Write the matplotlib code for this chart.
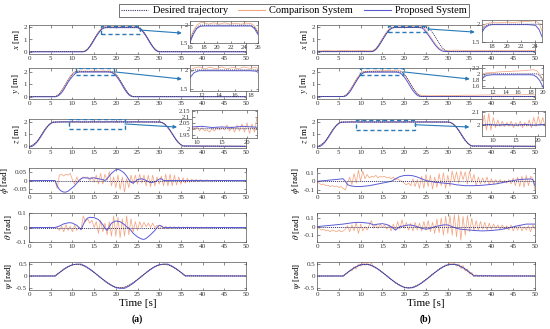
import numpy as np
import matplotlib.pyplot as plt
from matplotlib.patches import Rectangle, ConnectionPatch
from matplotlib.lines import Line2D

plt.rcParams['font.family'] = 'serif'
plt.rcParams['font.serif'] = ['Liberation Serif', 'DejaVu Serif']
plt.rcParams['mathtext.fontset'] = 'stix'

DES = '#3b3b6b'
COMP = '#f4a683'
PROP = '#5b5bd6'
BOX = '#2a7ab8'

# ---------------- desired trajectories (same in (a) and (b)) ----------------
x_des_t = [0, 12.5, 13, 13.5, 14, 14.5, 15, 15.5, 16, 16.5, 17, 17.5,
           25, 25.5, 26, 26.5, 27, 27.5, 28, 28.5, 29, 29.5, 30, 50]
x_des = [0, 0, 0.06, 0.21, 0.43, 0.70, 1.0, 1.30, 1.57, 1.79, 1.94, 2.0,
         2.0, 1.94, 1.79, 1.57, 1.30, 1.0, 0.70, 0.43, 0.21, 0.06, 0, 0]

y_des_t = [0, 6, 6.5, 7, 7.5, 8, 8.5, 9, 9.5, 10, 10.5, 11,
           19, 19.5, 20, 20.5, 21, 21.5, 22, 22.5, 23, 23.5, 24, 50]
y_des = [0, 0, 0.06, 0.21, 0.43, 0.70, 1.0, 1.30, 1.57, 1.79, 1.94, 2.0,
         2.0, 1.94, 1.79, 1.57, 1.30, 1.0, 0.70, 0.43, 0.21, 0.06, 0, 0]

z_des_t = [0, 0.5, 1, 1.5, 2, 2.5, 3, 3.5, 4, 4.5, 5, 5.5,
           30, 30.5, 31, 31.5, 32, 32.5, 33, 33.5, 34, 34.5, 35, 35.5, 50]
z_des = [0, 0.03, 0.12, 0.27, 0.47, 0.72, 1.0, 1.28, 1.53, 1.73, 1.88, 2.0,
         2.0, 1.97, 1.88, 1.73, 1.53, 1.28, 1.0, 0.72, 0.47, 0.27, 0.12, 0.0, 0]

ang_des_t = [0, 50]
ang_des = [0, 0]

psi_des_t = [0, 6, 7, 8, 9, 10, 11, 12, 13, 14, 15, 16, 17, 18, 19, 20, 21,
             22, 23, 24, 25, 26, 27, 28, 29, 30, 31, 32, 33, 34, 35, 36, 50]
psi_des = [0, 0, 0.15, 0.29, 0.4, 0.48, 0.5, 0.48, 0.4, 0.29, 0.15, 0, -0.15,
           -0.29, -0.4, -0.48, -0.5, -0.48, -0.4, -0.29, -0.15, 0, 0.15, 0.29,
           0.4, 0.48, 0.5, 0.48, 0.4, 0.29, 0.15, 0, 0]

# ---------------- (a) ----------------
x_t_a = [0, 12.5, 13, 13.5, 14, 14.5, 15, 15.5, 16, 16.5, 17, 17.5, 18, 18.7, 19.5,
         20.3, 21.1, 21.9, 22.7, 23.5, 24.2, 25, 25.5, 26, 26.5, 27, 27.5, 28,
         28.5, 29, 29.5, 30, 50]
x_prop_a = [-0.02, -0.02, 0.03, 0.17, 0.39, 0.66, 0.96, 1.26, 1.52, 1.75, 1.91, 1.97,
            1.98, 1.98, 1.98, 1.98, 1.98, 1.98, 1.98, 1.98, 1.98, 1.98,
            1.9, 1.74, 1.52, 1.26, 0.96, 0.66, 0.39, 0.17, 0.03, -0.02, -0.02]
x_comp_a = [0, 0, 0.08, 0.24, 0.47, 0.75, 1.05, 1.35, 1.62, 1.85, 2.0, 2.07,
            2.08, 2.03, 2.07, 2.03, 2.07, 2.03, 2.06, 2.03, 2.06, 2.05,
            1.98, 1.82, 1.6, 1.33, 1.03, 0.73, 0.46, 0.24, 0.08, 0, 0]

y_t_a = [0, 6, 6.5, 7, 7.5, 8, 8.5, 9, 9.5, 10, 10.5, 11, 11.6, 12.3, 13, 13.7, 14.4,
         15.1, 15.8, 16.5, 17.2, 17.9, 18.6, 19, 19.5, 20, 20.5, 21, 21.5, 22, 22.5,
         23, 23.5, 24, 50]
y_prop_a = [-0.02, -0.02, 0.02, 0.12, 0.3, 0.55, 0.85, 1.15, 1.4, 1.62, 1.8, 1.93,
            1.98, 1.98, 1.98, 1.98, 1.98, 1.98, 1.98, 1.98, 1.98, 1.98, 1.97,
            1.93, 1.85, 1.68, 1.46, 1.2, 0.9, 0.6, 0.34, 0.14, 0.03, -0.02, -0.02]
y_comp_a = [0, 0, 0.08, 0.24, 0.47, 0.75, 1.05, 1.35, 1.62, 1.85, 2.0, 2.05,
            2.08, 2.03, 2.07, 2.03, 2.08, 2.03, 2.07, 2.03, 2.08, 2.04, 2.07,
            2.03, 1.95, 1.8, 1.58, 1.3, 1.0, 0.7, 0.43, 0.2, 0.06, 0.0, 0.0]

z_prop_t = [0, 0.5, 1, 1.5, 2, 2.5, 3, 3.5, 4, 4.5, 5, 5.5, 7, 9, 11, 13, 15, 17,
            19, 21, 23, 25, 27, 30, 30.5, 31, 31.5, 32, 32.5, 33, 33.5, 34, 34.5,
            35, 35.5, 50]
z_prop_a = [-0.06, -0.04, 0.05, 0.2, 0.4, 0.66, 0.95, 1.24, 1.5, 1.72, 1.88, 1.97,
            2.01, 2.015, 2.02, 2.01, 2.015, 2.01, 2.02, 2.015, 2.01, 2.015, 2.01,
            2.0, 1.98, 1.9, 1.76, 1.57, 1.33, 1.05, 0.77, 0.5, 0.28, 0.12, 0.02, -0.02]
z_comp_t = np.concatenate([np.arange(0, 5.01, 0.5), np.arange(5.5, 30.01, 0.5),
                           np.arange(30.5, 35.51, 0.5), [50]])
z_comp_a = [0, 0.03, 0.13, 0.29, 0.5, 0.76, 1.04, 1.32, 1.57, 1.77, 1.92,
            2.0, 2.01, 2.0, 2.01, 2.0, 2.02, 2.0, 2.02, 1.99, 2.02, 1.98, 2.01, 1.98,
            1.99, 1.97, 2.0, 1.98, 2.01, 1.99, 2.01, 1.99, 2.03, 1.98, 2.02, 1.97,
            2.03, 1.98, 2.04, 1.97, 2.05, 1.96, 2.04, 1.97, 2.1, 1.99, 2.03, 1.98,
            2.03, 1.99, 2.02, 1.99, 2.02, 1.99, 2.01, 2.0, 2.01, 2.0, 2.01, 2.0, 2.0,
            1.96, 1.87, 1.72, 1.52, 1.27, 0.99, 0.71, 0.46, 0.26, 0.11, 0.02, 0]

phi_prop_a_t = [0, 6, 6.5, 7, 7.5, 8, 8.5, 9, 9.5, 10, 10.5, 11, 11.5, 12, 12.5, 13,
                14, 15, 16, 17, 17.5, 18, 18.5, 19, 19.5, 20, 20.5, 21, 21.5, 22,
                22.5, 23, 23.5, 24, 24.5, 25, 26, 27, 28, 29, 30, 30.5, 31, 32, 50]
phi_prop_a = [0, 0, -0.03, -0.05, -0.06, -0.065, -0.065, -0.06, -0.05, -0.04, -0.03,
              -0.015, 0, 0.01, 0.015, 0.015, 0.012, 0.015, 0.01, 0.005, 0, 0.01,
              0.025, 0.04, 0.05, 0.06, 0.062, 0.058, 0.05, 0.04, 0.025, 0.005, -0.01,
              -0.015, -0.005, 0.005, 0.01, 0.0, -0.012, -0.008, 0.008, 0.01, 0.0, 0, 0]
osc_t_a = np.concatenate([[0], np.arange(6, 40.01, 0.5), [41, 42, 43, 44, 45, 50]])
phi_comp_a = [0,
              0, -0.045, 0.03, 0.035, 0.025, 0.035, 0.03, 0.04, 0.005, -0.02, 0.02,
              -0.01, 0.01, 0.02, 0.015, 0.02, 0.0, 0.02, -0.01, 0.03, -0.02, 0.04,
              -0.02, 0.035, 0.0, 0.05, -0.03, 0.02, -0.04, 0.03, -0.05, 0.02, -0.065,
              0.01, -0.04, 0.03, -0.02, 0.03, -0.02, 0.035, -0.015, 0.03, -0.03, 0.03,
              -0.035, 0.03, -0.03, 0.02, -0.02, 0.025, -0.03, 0.035, -0.03, 0.035,
              -0.03, 0.03, -0.025, 0.02, -0.02, 0.015, -0.015, 0.012, -0.01, 0.008,
              -0.008, 0.006, -0.006, 0.005, -0.004,
              0.003, -0.003, 0.002, -0.002, 0.001, 0]

theta_prop_a_t = [0, 6, 7, 8, 9, 9.5, 10, 11, 11.5, 12, 12.5, 13, 13.5, 14, 15, 16,
                  17, 17.5, 18, 19, 20, 21, 22, 22.5, 23, 23.5, 24, 25, 26, 26.5, 27,
                  28, 29, 29.5, 30, 30.5, 31, 50]
theta_prop_a = [0, 0, 0.01, 0.025, 0.032, 0.033, 0.03, 0.015, 0.0, -0.015, 0.02,
                0.05, 0.065, 0.07, 0.068, 0.055, 0.02, -0.005, -0.02, 0.03, 0.045,
                0.04, 0.02, 0.005, -0.005, -0.02, -0.04, -0.065, -0.08, -0.082,
                -0.075, -0.05, -0.02, 0.0, 0.015, 0.01, 0.0, 0]
theta_comp_a = [0,
                0, 0.0, -0.02, 0.01, -0.03, 0.02, -0.02, 0.01, -0.03, 0.015, -0.02,
                0.0, -0.01, 0.08, 0.04, 0.06, 0.03, 0.05, 0.0, 0.04, -0.04, 0.05,
                -0.03, 0.03, -0.05, 0.04, -0.06, 0.08, -0.06, 0.07, -0.07, 0.06,
                -0.06, 0.08, -0.05, 0.06, -0.03, 0.04, -0.02, 0.04, 0.0, 0.035,
                0.005, 0.03, 0.0, 0.03, 0.0, 0.015, -0.01, 0.01, -0.008, 0.008,
                -0.008, 0.006, -0.006, 0.006, -0.005, 0.005, -0.005, 0.004, -0.004,
                0.004, -0.004, 0.003, -0.003, 0.003, -0.003, 0.002, -0.002,
                0.002, -0.002, 0.001, -0.001, 0.001, 0]

psi_prop_a = [0, 0, 0.14, 0.28, 0.4, 0.48, 0.51, 0.51, 0.42, 0.3, 0.16, 0.01, -0.14,
              -0.28, -0.4, -0.5, -0.53, -0.53, -0.44, -0.31, -0.16, -0.01, 0.14, 0.28,
              0.4, 0.48, 0.51, 0.51, 0.42, 0.3, 0.16, 0.01, 0]
psi_comp_a = [0, 0, 0.15, 0.29, 0.41, 0.49, 0.5, 0.48, 0.41, 0.29, 0.15, 0, -0.15,
              -0.29, -0.41, -0.49, -0.51, -0.48, -0.4, -0.29, -0.15, 0, 0.15, 0.29,
              0.41, 0.49, 0.5, 0.48, 0.4, 0.29, 0.15, 0, 0]

# ---------------- (b) ----------------
x_t_b = [0, 2, 4, 6, 8, 10, 12, 12.5, 13, 13.5, 14, 14.5, 15, 15.5, 16, 16.5, 17,
         17.5, 18, 19, 20, 21, 22, 23, 24, 24.5, 25, 25.5, 26, 26.5, 27, 27.5, 28,
         28.5, 29, 29.5, 30, 32, 34, 36, 38, 40, 42, 44, 46, 48, 50]
x_prop_b = [0, 0, 0, 0, 0, 0, 0,
            0.0, 0.04, 0.17, 0.38, 0.65, 0.95, 1.25, 1.52, 1.75, 1.9, 1.97,
            1.99, 1.99, 1.99, 1.99, 1.99, 1.99, 1.97, 1.85,
            1.6, 1.38, 1.12, 0.86, 0.6, 0.38, 0.2, 0.08, 0.02, 0.0, 0.0,
            0, 0, 0, 0, 0, 0, 0, 0, 0, 0]
x_comp_b = [0.05, 0.08, 0.06, 0.09, 0.07, 0.08, 0.07,
            0.08, 0.13, 0.28, 0.5, 0.78, 1.08, 1.37, 1.62, 1.85, 2.0, 2.03,
            2.05, 2.04, 2.06, 2.05, 2.07, 2.08, 2.1, 2.02,
            1.75, 1.5, 1.25, 0.98, 0.72, 0.48, 0.3, 0.18, 0.12, 0.1, 0.1,
            0.12, 0.09, 0.11, 0.08, 0.1, 0.09, 0.11, 0.08, 0.1, 0.09]

y_t_b = [0, 2, 4, 6, 6.5, 7, 7.5, 8, 8.5, 9, 9.5, 10, 10.5, 11, 12, 13, 14, 15, 16,
         17, 18, 18.5, 19, 19.5, 20, 20.5, 21, 21.5, 22, 22.5, 23, 23.5, 24, 26, 28,
         30, 32, 34, 36, 38, 40, 42, 44, 46, 48, 50]
y_prop_b = [0, 0, 0, 0,
            0.03, 0.15, 0.36, 0.63, 0.93, 1.22, 1.5, 1.73, 1.88, 1.95,
            1.97, 1.97, 1.97, 1.97, 1.97, 1.97, 1.97, 1.96,
            1.9, 1.78, 1.58, 1.33, 1.04, 0.75, 0.48, 0.26, 0.1, 0.02, 0.0,
            0, 0, 0, 0, 0, 0, 0, 0, 0, 0, 0, 0, 0]
y_comp_b = [0, 0.01, 0, 0.01,
            0.1, 0.26, 0.5, 0.78, 1.08, 1.38, 1.65, 1.87, 2.0, 2.03,
            2.04, 2.06, 2.07, 2.08, 2.09, 2.1, 2.12, 2.13,
            2.1, 1.98, 1.8, 1.55, 1.26, 0.96, 0.68, 0.44, 0.26, 0.14, 0.08,
            0.06, 0.07, 0.1, 0.08, 0.11, 0.1, 0.12, 0.13, 0.11, 0.14, 0.13, 0.15, 0.14]

z_prop_b = [-0.05, -0.03, 0.05, 0.2, 0.41, 0.67, 0.96, 1.25, 1.51, 1.73, 1.89, 1.97,
            2.0, 2.005, 2.0, 2.005, 2.0, 2.005, 2.0, 2.005, 2.0, 2.005, 2.0,
            2.0, 1.98, 1.9, 1.76, 1.57, 1.33, 1.05, 0.77, 0.5, 0.28, 0.12, 0.02, -0.02]
z_comp_b = [0, 0.03, 0.13, 0.29, 0.5, 0.76, 1.04, 1.32, 1.57, 1.77, 1.92,
            2.0, 2.02, 1.98, 2.03, 1.98, 2.08, 1.96, 2.09, 1.96, 2.06, 1.98, 2.04,
            1.99, 2.03, 1.99, 2.02, 1.99, 2.03, 1.98, 2.02, 1.99, 2.03, 1.98, 2.02,
            1.99, 2.04, 1.98, 2.06, 1.99, 2.07, 2.0, 2.06, 1.99, 2.05, 1.99, 2.04,
            1.98, 2.03, 1.98, 2.04, 1.99, 2.03, 1.98, 2.04, 1.99, 2.03, 1.98, 2.02,
            1.99, 2.0,
            1.96, 1.87, 1.72, 1.52, 1.27, 0.99, 0.71, 0.46, 0.26, 0.11, 0.02, 0]

phi_prop_b_t = [0, 2, 4, 6, 6.5, 7, 8, 9, 10, 11, 12, 13, 14, 15, 16, 17, 18, 19, 20,
                21, 22, 23, 24, 25, 26, 27, 28, 29, 30, 31, 32, 33, 34, 35, 36, 37,
                38, 39, 40, 41, 42, 43, 44, 45, 46, 47, 48, 49, 49.5, 50]
phi_prop_b = [0.0, 0.01, 0.02, 0.03, 0.0, -0.04, -0.055, -0.06, -0.06, -0.055, -0.05,
              -0.04, -0.03, -0.02, -0.01, 0.0, 0.03, 0.055, 0.068, 0.07, 0.065,
              0.05, 0.03, 0.01, 0.0, -0.01, -0.015, -0.02, -0.025, -0.03, -0.04,
              -0.045, -0.05, -0.05, -0.05, -0.048, -0.045, -0.04, -0.035, -0.03,
              -0.02, -0.01, 0.0, 0.01, 0.018, 0.023, 0.026, 0.028, 0.02, -0.05]
osc_t_b = np.arange(0, 50.01, 0.5)
phi_comp_b = [0.0, -0.02, -0.04, -0.03, -0.05, -0.045, -0.06, -0.05, -0.06, -0.055,
              -0.07, -0.06, -0.08, -0.1, -0.02, 0.05, -0.04, 0.09, -0.02, 0.13, 0.0,
              0.12, 0.03, 0.08, 0.04, 0.06, 0.05, 0.07, 0.04, 0.06, 0.05, 0.06, 0.04,
              0.05, 0.03, 0.05, 0.02, 0.03, 0.01, 0.0, -0.02, -0.04, -0.02, -0.05,
              0.03, -0.06, 0.02, -0.08, 0.06, -0.08, 0.08, -0.06, 0.07, -0.09, 0.05,
              -0.07, 0.09, -0.05, 0.1, -0.08, 0.07, -0.06, 0.12, 0.0, 0.11, -0.02,
              0.12, 0.02, 0.11, -0.03, 0.12, -0.01, 0.08, -0.05, 0.05, -0.03, 0.04,
              -0.02, 0.05, -0.04, 0.03, -0.03, 0.02, -0.03, 0.02, -0.02, 0.01, -0.02,
              0.02, -0.03, 0.04, -0.05, 0.05, -0.06, 0.06, -0.07, 0.07, -0.05, 0.06,
              0.03, -0.1]

theta_prop_b_t = [0, 2, 4, 6, 8, 9, 10, 11, 12, 13, 14, 15, 16, 17, 18, 19, 20, 21,
                  22, 23, 24, 25, 26, 27, 28, 29, 30, 31, 32, 33, 34, 36, 38, 40, 42,
                  44, 46, 48, 50]
theta_prop_b = [0.0, 0.01, 0.02, 0.03, 0.045, 0.05, 0.05, 0.045, 0.04, 0.02, 0.03,
                0.035, 0.025, 0.0, -0.04, 0.0, 0.01, 0.02, 0.015, 0.0, -0.02, -0.03,
                -0.02, 0.0, 0.01, 0.02, 0.02, 0.0, -0.02, -0.03, -0.035, -0.045,
                -0.05, -0.045, -0.035, -0.015, 0.01, 0.03, 0.03]
theta_comp_b = [0.0, -0.02, -0.04, -0.03, -0.05, -0.04, -0.06, -0.04, -0.05, -0.06,
                -0.04, -0.06, -0.05, -0.03, 0.01, -0.06, 0.02, -0.05, 0.05, -0.08,
                0.03, -0.05, 0.0, -0.04, 0.02, 0.07, -0.02, 0.03, -0.02, 0.03, -0.01,
                0.02, -0.03, 0.02, -0.05, 0.03, -0.04, 0.06, -0.03, 0.08, -0.02,
                0.05, -0.04, 0.04, -0.05, 0.05, -0.04, 0.04, -0.05, 0.06, -0.04,
                0.07, -0.06, 0.05, -0.08, 0.09, -0.07, 0.1, -0.1, 0.12, -0.08, 0.13,
                -0.1, 0.14, -0.12, 0.14, -0.16, 0.12, -0.1, 0.13, -0.06, 0.1, -0.05,
                0.07, -0.04, 0.06, -0.03, 0.05, -0.04, 0.04, -0.03, 0.03, -0.02,
                0.02, -0.03, 0.02, -0.03, 0.01, -0.04, 0.02, -0.05, 0.01, -0.04,
                0.02, -0.05, 0.0, -0.04, 0.01, -0.06, 0.02, -0.03]

psi_prop_b = [0, 0, 0.15, 0.28, 0.4, 0.48, 0.5, 0.49, 0.41, 0.3, 0.16, 0.01, -0.14,
              -0.28, -0.4, -0.49, -0.52, -0.5, -0.42, -0.3, -0.16, -0.01, 0.14, 0.28,
              0.4, 0.48, 0.5, 0.49, 0.41, 0.3, 0.16, 0.01, 0]
psi_comp_t_b = np.concatenate([[0], np.arange(6, 40.01, 0.5), [50]])
psi_comp_b = [0,
              0.0, 0.08, 0.12, 0.25, 0.22, 0.4, 0.3, 0.52, 0.42, 0.6, 0.45, 0.58,
              0.46, 0.55, 0.38, 0.38, 0.28, 0.22, 0.15, 0.08, 0.0, -0.08, -0.15,
              -0.22, -0.29, -0.35, -0.4, -0.45, -0.48, -0.5, -0.51, -0.5, -0.48,
              -0.44, -0.4, -0.35, -0.29, -0.22, -0.15, -0.08, 0.0, 0.08, 0.15, 0.22,
              0.29, 0.36, 0.4, 0.48, 0.46, 0.55, 0.48, 0.58, 0.42, 0.52, 0.32, 0.45,
              0.22, 0.3, 0.08, 0.15, -0.02, 0.06, -0.03, 0.04, -0.02, 0.03, -0.01,
              0.02, -0.01,
              0]

# ---------------- figure ----------------
fig = plt.figure(figsize=(5.5, 3.29), dpi=100)
W, H = 550.0, 329.0


def px_axes(x0, x1, y0, y1):
    return fig.add_axes([x0 / W, 1 - y1 / H, (x1 - x0) / W, (y1 - y0) / H])


def style(ax, fs=5):
    for s in ax.spines.values():
        s.set_linewidth(0.5)
        s.set_color('#555555')
    ax.tick_params(direction='in', length=1.8, width=0.4, labelsize=fs, pad=1.5,
                   top=True, right=True, colors='#333333')


def draw(ax, td, vd, tc, vc, tp, vp):
    ax.plot(tc, vc, color=COMP, lw=0.55)
    ax.plot(tp, vp, color=PROP, lw=0.7)
    ax.plot(td, vd, color=DES, lw=0.7, ls=(0, (1, 1)))


rows = [(25, 54), (68, 99), (119, 148), (168, 193), (213, 242), (262, 290)]
cols = [(29, 246), (317, 535)]

panels = {
    0: [
        (x_des_t, x_des, x_t_a, x_comp_a, x_t_a, x_prop_a, (-0.2, 2.2), [0, 1, 2], '$x$ [m]'),
        (y_des_t, y_des, y_t_a, y_comp_a, y_t_a, y_prop_a, (-0.2, 2.3), [0, 1, 2], '$y$ [m]'),
        (z_des_t, z_des, z_comp_t, z_comp_a, z_prop_t, z_prop_a, (-0.15, 2.25), [0, 1, 2], '$z$ [m]'),
        (ang_des_t, ang_des, osc_t_a, phi_comp_a, phi_prop_a_t, phi_prop_a, (-0.07, 0.07),
         [-0.05, 0, 0.05], r'$\phi$ [rad]'),
        (ang_des_t, ang_des, osc_t_a, theta_comp_a, theta_prop_a_t, theta_prop_a, (-0.1, 0.1),
         [-0.1, 0, 0.1], r'$\theta$ [rad]'),
        (psi_des_t, psi_des, psi_des_t, psi_comp_a, psi_des_t, psi_prop_a, (-0.6, 0.6),
         [-0.5, 0, 0.5], r'$\psi$ [rad]'),
    ],
    1: [
        (x_des_t, x_des, x_t_b, x_comp_b, x_t_b, x_prop_b, (-0.2, 2.2), [0, 1, 2], '$x$ [m]'),
        (y_des_t, y_des, y_t_b, y_comp_b, y_t_b, y_prop_b, (-0.2, 2.3), [0, 1, 2], '$y$ [m]'),
        (z_des_t, z_des, z_comp_t, z_comp_b, z_prop_t, z_prop_b, (-0.15, 2.25), [0, 1, 2], '$z$ [m]'),
        (ang_des_t, ang_des, osc_t_b, phi_comp_b, phi_prop_b_t, phi_prop_b, (-0.135, 0.155),
         [-0.1, 0, 0.1], r'$\phi$ [rad]'),
        (ang_des_t, ang_des, osc_t_b, theta_comp_b, theta_prop_b_t, theta_prop_b, (-0.18, 0.16),
         [-0.1, 0, 0.1], r'$\theta$ [rad]'),
        (psi_des_t, psi_des, psi_comp_t_b, psi_comp_b, psi_des_t, psi_prop_b, (-0.6, 0.6),
         [-0.5, 0, 0.5], r'$\psi$ [rad]'),
    ],
}

main_axes = {}
for c, (cx0, cx1) in enumerate(cols):
    for r, (ry0, ry1) in enumerate(rows):
        td, vd, tc, vc, tp, vp, yl, yt, lab = panels[c][r]
        ax = px_axes(cx0, cx1, ry0, ry1)
        draw(ax, td, vd, tc, vc, tp, vp)
        ax.set_xlim(0, 50)
        ax.set_xticks(range(0, 51, 5))
        ax.set_ylim(*yl)
        ax.set_yticks(yt)
        ax.set_yticklabels([f'{v:g}' for v in yt])
        ax.set_ylabel(lab, fontsize=6.5, labelpad=1)
        style(ax)
        main_axes[(c, r)] = ax

# insets: (col,row), pixel box, xlim, ylim, xticks, yticks, zoom box in data, arrow end
insets = [
    ((0, 0), (190, 258, 21, 43), (16, 26), (1.5, 2.12), [16, 18, 20, 22, 24, 26], [1.5, 2],
     (16.5, 1.45, 9.0, 0.67), (-0.12, 0.45)),
    ((0, 1), (190, 258, 65, 91), (10.5, 18.9), (1.45, 2.13), [12, 14, 16, 18], [1.5, 2],
     (10.8, 1.7, 8.8, 0.58), (-0.12, 0.46)),
    ((0, 2), (192, 257, 110, 138), (9, 22), (1.92, 2.16), [10, 15, 20],
     [1.95, 2, 2.05, 2.1, 2.15], (9.3, 1.45, 12.8, 0.78), (-0.23, 0.39)),
    ((1, 0), (482, 542, 20, 42), (16.6, 24.9), (1.5, 2.12), [18, 20, 22, 24], [1.5, 2],
     (16.3, 1.62, 9.2, 0.5), (-0.12, 0.45)),
    ((1, 1), (482, 543, 65, 88), (10.3, 20), (1.55, 2.28), [12, 14, 16, 18, 20],
     [1.6, 1.8, 2, 2.2], (9.9, 1.7, 9.8, 0.58), (-0.2, 0.39)),
    ((1, 2), (482, 545, 111, 136), (7.5, 21.5), (1.915, 2.11), [10, 15, 20], [2, 2.1],
     (9.0, 1.35, 13.5, 0.85), (-0.2, 0.36)),
]

for (key, pb, xl, yl, xt, yt, zb, aend) in insets:
    c, r = key
    td, vd, tc, vc, tp, vp = panels[c][r][:6]
    ins = px_axes(*pb)
    ins.set_facecolor('white')
    draw(ins, td, vd, tc, vc, tp, vp)
    ins.set_xlim(*xl)
    ins.set_ylim(*yl)
    ins.set_xticks(xt)
    ins.set_yticks(yt)
    ins.set_yticklabels([f'{v:g}' for v in yt])
    style(ins, fs=4.8)
    ax = main_axes[key]
    ax.add_patch(Rectangle((zb[0], zb[1]), zb[2], zb[3], fill=False, ls=(0, (3, 2)),
                           ec=BOX, lw=1.0, zorder=5))
    con = ConnectionPatch(xyA=(zb[0] + zb[2], zb[1] + zb[3] / 2), coordsA=ax.transData,
                          xyB=aend, coordsB=ins.transAxes, arrowstyle='-|>',
                          color=BOX, lw=0.8, mutation_scale=5)
    fig.add_artist(con)

for c, (cx0, cx1) in enumerate(cols):
    xc = (cx0 + cx1) / 2 / W
    fig.text(xc, 1 - 303 / H, 'Time [s]', ha='center', va='center', fontsize=8)
    fig.text(xc, 1 - 319 / H, '(a)' if c == 0 else '(b)', ha='center', va='center',
             fontsize=7, fontweight='bold')

handles = [Line2D([], [], color=DES, lw=0.8, ls=(0, (1, 1))),
           Line2D([], [], color=COMP, lw=0.8),
           Line2D([], [], color=PROP, lw=0.8)]
leg = fig.legend(handles, ['Desired trajectory', 'Comparison System', 'Proposed System'],
                 loc='center', bbox_to_anchor=(294 / W, 1 - 10.5 / H), ncol=3,
                 fontsize=7.5, frameon=True, fancybox=False, edgecolor='#333333',
                 borderpad=0.2, handlelength=2.6, columnspacing=1.0, handletextpad=0.4)
leg.get_frame().set_linewidth(0.6)

fig.savefig('out.png', dpi=100)
